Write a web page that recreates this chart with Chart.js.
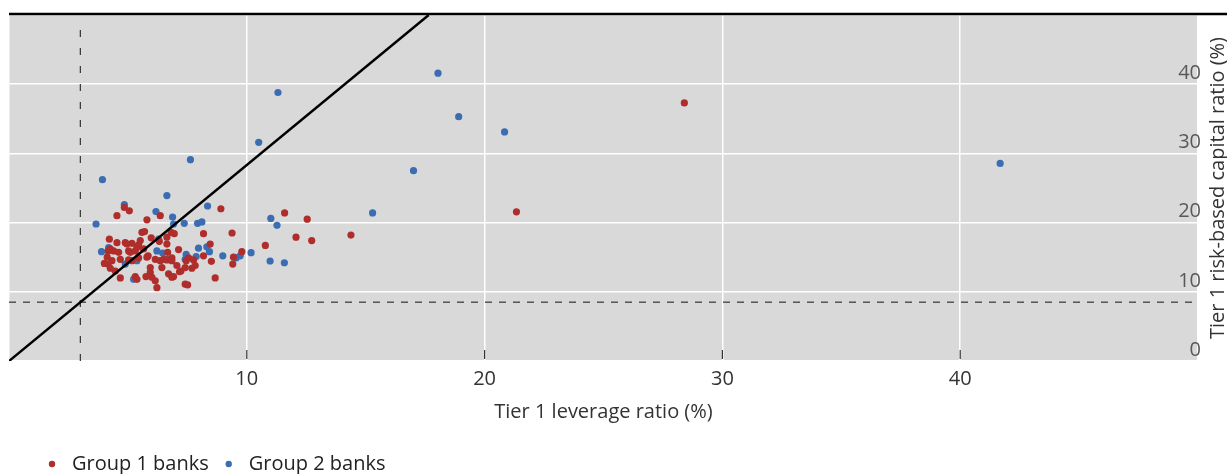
<!DOCTYPE html>
<html><head><meta charset="utf-8">
<script src="https://cdn.jsdelivr.net/npm/chart.js@4.4.0/dist/chart.umd.min.js"></script>
<style>html,body{margin:0;padding:0;background:#fff;}</style>
</head><body>
<canvas id="c" width="1227" height="474"></canvas>
<script>
// ---- data ----
const group1X = [4.54,4.85,5.06,6.36,5.80,5.59,5.70,5.52,5.98,6.32,6.64,6.82,4.22,4.54,4.89,5.17,5.45,4.17,4.40,4.61,5.03,5.31,5.66,5.85,4.13,4.33,4.68,5.03,5.45,4.17,4.26,5.94,6.15,6.36,6.64,6.85,5.94,6.01,6.43,6.71,6.85,4.68,5.31,5.38,5.76,6.15,6.22,8.91,9.38,8.18,6.95,8.46,7.13,9.79,9.44,9.41,8.18,8.51,7.55,7.76,7.45,7.06,7.41,7.69,7.83,6.85,6.92,7.23,8.67,7.41,7.51,11.59,12.54,12.07,12.73,10.78,14.38,21.34,28.40,4.26,4.96,5.10,5.17,5.38,5.80,6.50,6.67,6.64,7.17,4.47,4.01];
const group1Y = [21.0,22.2,21.7,21.0,20.4,18.6,18.7,17.4,17.8,17.3,17.9,18.6,17.6,17.1,17.1,17.0,16.8,15.9,15.9,15.7,15.9,15.9,16.2,15.2,15.0,14.5,14.7,14.6,14.9,14.0,13.4,13.5,14.7,14.5,14.6,14.5,12.8,12.1,13.5,12.6,12.1,12.0,12.2,11.8,12.2,11.6,10.6,22.0,18.5,18.4,18.4,16.9,16.1,15.8,15.0,14.0,15.2,14.4,14.9,14.6,14.5,13.8,13.5,13.4,13.8,14.9,12.2,13.0,12.0,11.1,11.0,21.4,20.5,17.9,17.4,16.7,18.2,21.55,37.3,16.2,16.9,15.7,14.5,16.4,15.0,14.7,15.7,16.9,12.9,13.0,14.1];
const group2X = [18.04,18.91,20.84,17.01,11.31,10.50,15.29,11.01,11.27,10.18,10.98,11.58,41.68,7.63,3.93,6.64,4.85,6.18,3.66,6.88,6.92,3.89,4.19,6.29,6.22,6.46,6.64,5.38,4.89,5.24,8.35,7.37,7.93,8.11,7.97,8.32,8.43,7.45,7.87,8.99,9.55,9.72,7.41];
const group2Y = [41.6,35.3,33.1,27.5,38.8,31.6,21.4,20.6,19.6,15.65,14.45,14.2,28.55,29.1,26.2,23.9,22.6,21.6,19.8,20.8,19.8,15.8,16.4,17.6,15.9,15.6,14.7,14.5,14.0,11.8,22.4,19.9,19.9,20.1,16.3,16.5,15.8,15.4,15.1,15.2,14.9,15.2,14.7];
const seriesNames = ['Group 1 banks','Group 2 banks'];
const xTickLabels = [10,20,30,40];
const yTickLabels = [0,10,20,30,40];
const leverageMin = 3;      // vertical dashed line
const riskBasedMin = 8.5;   // horizontal dashed line
const diagonalX = [0, 17.65];
const diagonalY = [0, 50];
const xTitle = 'Tier 1 leverage ratio (%)';
const yTitle = 'Tier 1 risk-based capital ratio (%)';

const RED = '#AF2E2B', BLUE = '#3B6DB3';
const FONT = '"Open Sans", sans-serif';
Chart.defaults.font.family = FONT;

const toPts = (xs, ys) => xs.map((x, i) => ({x, y: ys[i]}));

const decor = {
  id: 'decor',
  afterLayout(chart) {
    const lg = chart.legend;
    if (lg) { lg.left += 23; lg.right += 23; lg.top += 10; lg.bottom += 10; }
  },
  beforeDraw(chart) {
    const {ctx, chartArea: a} = chart;
    ctx.save();
    ctx.fillStyle = '#D9D9D9';
    ctx.fillRect(a.left, a.top, a.right - a.left, a.bottom - a.top);
    ctx.restore();
  },
  afterDraw(chart) {
    const {ctx, chartArea: a, scales} = chart;
    ctx.save();
    ctx.strokeStyle = '#000'; ctx.lineWidth = 2.5;
    ctx.beginPath(); ctx.moveTo(a.left, a.top - 1); ctx.lineTo(chart.width, a.top - 1); ctx.stroke();
    ctx.strokeStyle = '#333'; ctx.lineWidth = 1.2;
    xTickLabels.forEach(v => {
      const px = scales.x.getPixelForValue(v);
      ctx.beginPath(); ctx.moveTo(px, a.bottom - 11); ctx.lineTo(px, a.bottom - 2); ctx.stroke();
    });
    ctx.fillStyle = '#333'; ctx.font = '20px ' + FONT;
    ctx.textAlign = 'center'; ctx.textBaseline = 'middle';
    ctx.translate(1218, (a.top + a.bottom) / 2);
    ctx.rotate(-Math.PI / 2);
    ctx.fillText(yTitle, 0, 0);
    ctx.restore();
  }
};

new Chart(document.getElementById('c'), {
  type: 'scatter',
  data: {
    datasets: [
      {label: seriesNames[0], data: toPts(group1X, group1Y), backgroundColor: RED, borderColor: RED, borderWidth: 0, pointRadius: 3.6, order: 1},
      {label: seriesNames[1], data: toPts(group2X, group2Y), backgroundColor: BLUE, borderColor: BLUE, borderWidth: 0, pointRadius: 3.6, order: 2},
      {label: 'diag', data: toPts(diagonalX, diagonalY), showLine: true, borderColor: '#000', borderWidth: 2.5, pointRadius: 0, order: 0},
      {label: 'vmin', data: [{x: leverageMin, y: 0}, {x: leverageMin, y: 49}], showLine: true, borderColor: '#333', borderWidth: 1.2, borderDash: [7, 11], pointRadius: 0, order: 0},
      {label: 'hmin', data: [{x: 0, y: riskBasedMin}, {x: 50, y: riskBasedMin}], showLine: true, borderColor: '#333', borderWidth: 1.2, borderDash: [7, 7], pointRadius: 0, order: 0}
    ]
  },
  options: {
    responsive: false, animation: false, devicePixelRatio: 1,
    layout: {padding: {left: 9, right: 29, top: 14, bottom: 0}},
    plugins: {
      tooltip: {enabled: false},
      legend: {
        position: 'bottom', align: 'start',
        labels: {
          usePointStyle: true, pointStyle: 'circle', boxWidth: 20, boxHeight: 4.5,
          color: '#222', font: {size: 20, family: FONT}, padding: 10,
          filter: item => item.datasetIndex < 2
        }
      }
    },
    scales: {
      x: {
        type: 'linear', min: 0, max: 50, position: 'bottom',
        grid: {color: '#FFFFFF', lineWidth: 1.5, drawTicks: false},
        border: {display: false},
        ticks: {stepSize: 10, padding: 6, color: '#333', font: {size: 20, family: FONT},
          callback: v => xTickLabels.includes(v) ? String(v) : ''},
        title: {display: true, text: xTitle, color: '#333', font: {size: 20, family: FONT}, padding: {top: 3, bottom: 10}}
      },
      y: {
        type: 'linear', min: 0, max: 50, position: 'right',
        grid: {color: '#FFFFFF', lineWidth: 1.5, drawTicks: false},
        border: {display: false},
        afterFit: scale => { scale.width = 0; },
        ticks: {stepSize: 10, mirror: true, padding: 3, labelOffset: -11, color: '#595959', font: {size: 20, family: FONT},
          callback: v => yTickLabels.includes(v) ? String(v) : ''}
      }
    }
  },
  plugins: [decor]
});
</script>
</body></html>
